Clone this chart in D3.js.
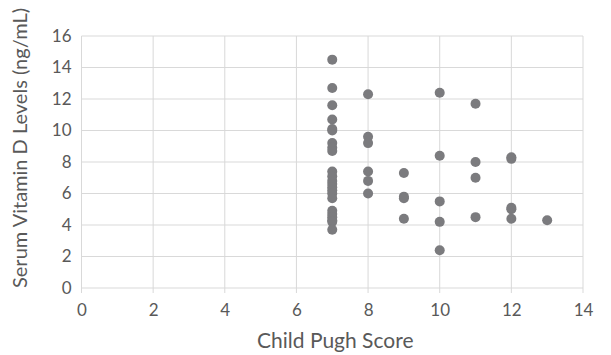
<!DOCTYPE html>
<html>
<head>
<meta charset="utf-8">
<script src="https://cdn.jsdelivr.net/npm/d3@7"></script>
<style>
  body { margin: 0; background: #fff; }
  text { font-family: Lato, "Open Sans", sans-serif; fill: #595959; }
</style>
</head>
<body>
<div id="chart"></div>
<script>
// Child Pugh score per patient, and the matching serum vitamin D level
const scores = [
  7, 7, 7, 7, 7, 7, 7, 7, 7,
  7, 7, 7, 7, 7, 7, 7, 7, 7, 7, 7, 7, 7, 7,
  8, 8, 8, 8, 8, 8,
  9, 9, 9, 9,
  10, 10, 10, 10, 10,
  11, 11, 11, 11,
  12, 12, 12, 12, 12,
  13
];
const vitaminD = [
  14.5, 12.7, 11.6, 10.7, 10.1, 10.0, 9.2, 8.9, 8.7,
  7.4, 7.1, 6.8, 6.6, 6.4, 6.2, 6.0, 5.7, 4.9, 4.7, 4.5, 4.3, 4.2, 3.7,
  12.3, 9.6, 9.2, 7.4, 6.8, 6.0,
  7.3, 5.8, 5.7, 4.4,
  12.4, 8.4, 5.5, 4.2, 2.4,
  11.7, 8.0, 7.0, 4.5,
  8.3, 8.2, 5.1, 5.0, 4.4,
  4.3
];
const xTicks = [0, 2, 4, 6, 8, 10, 12, 14];
const yTicks = [0, 2, 4, 6, 8, 10, 12, 14, 16];

const data = scores.map((s, i) => ({ x: s, y: vitaminD[i] }));

const width = 611, height = 355;
const margin = { top: 36, right: 28, bottom: 67, left: 81.5 };
const innerW = width - margin.left - margin.right,
      innerH = height - margin.top - margin.bottom;

const svg = d3.select("#chart").append("svg")
    .attr("width", width)
    .attr("height", height);

const x = d3.scaleLinear().domain([0, 14]).range([0, innerW]);
const y = d3.scaleLinear().domain([0, 16]).range([innerH, 0]);

const g = svg.append("g")
    .attr("transform", "translate(" + margin.left + "," + margin.top + ")");

// grid
g.append("g").selectAll("line.h")
    .data(yTicks).join("line")
    .attr("x1", 0).attr("x2", innerW)
    .attr("y1", d => y(d)).attr("y2", d => y(d))
    .attr("stroke", "#d9d9d9").attr("stroke-width", 1);

g.append("g").selectAll("line.v")
    .data(xTicks).join("line")
    .attr("x1", d => x(d)).attr("x2", d => x(d))
    .attr("y1", 0).attr("y2", innerH + 5)
    .attr("stroke", "#d9d9d9").attr("stroke-width", 1);

// axes (labels only, lines come from grid)
const xAxis = g.append("g")
    .attr("transform", "translate(0," + innerH + ")")
    .call(d3.axisBottom(x).tickValues(xTicks).tickSize(0).tickPadding(16));
xAxis.select(".domain").remove();
xAxis.selectAll("text").style("font-size", "17px").attr("fill", "#595959");

const yAxis = g.append("g")
    .call(d3.axisLeft(y).tickValues(yTicks).tickSize(0).tickPadding(10));
yAxis.select(".domain").remove();
yAxis.selectAll("text").style("font-size", "17px").attr("fill", "#595959");

// points
g.append("g").selectAll("circle")
    .data(data).join("circle")
    .attr("cx", d => x(d.x))
    .attr("cy", d => y(d.y))
    .attr("r", 5)
    .attr("fill", "#7b7b7e");

// titles
svg.append("text")
    .attr("x", margin.left + innerW / 2 + 3)
    .attr("y", 348)
    .attr("text-anchor", "middle")
    .style("font-size", "21px")
    .text("Child Pugh Score");

svg.append("text")
    .attr("transform", "translate(27," + (margin.top + innerH / 2 - 14) + ") rotate(-90)")
    .attr("text-anchor", "middle")
    .style("font-size", "20px")
    .text("Serum Vitamin D Levels (ng/mL)");
</script>
</body>
</html>
